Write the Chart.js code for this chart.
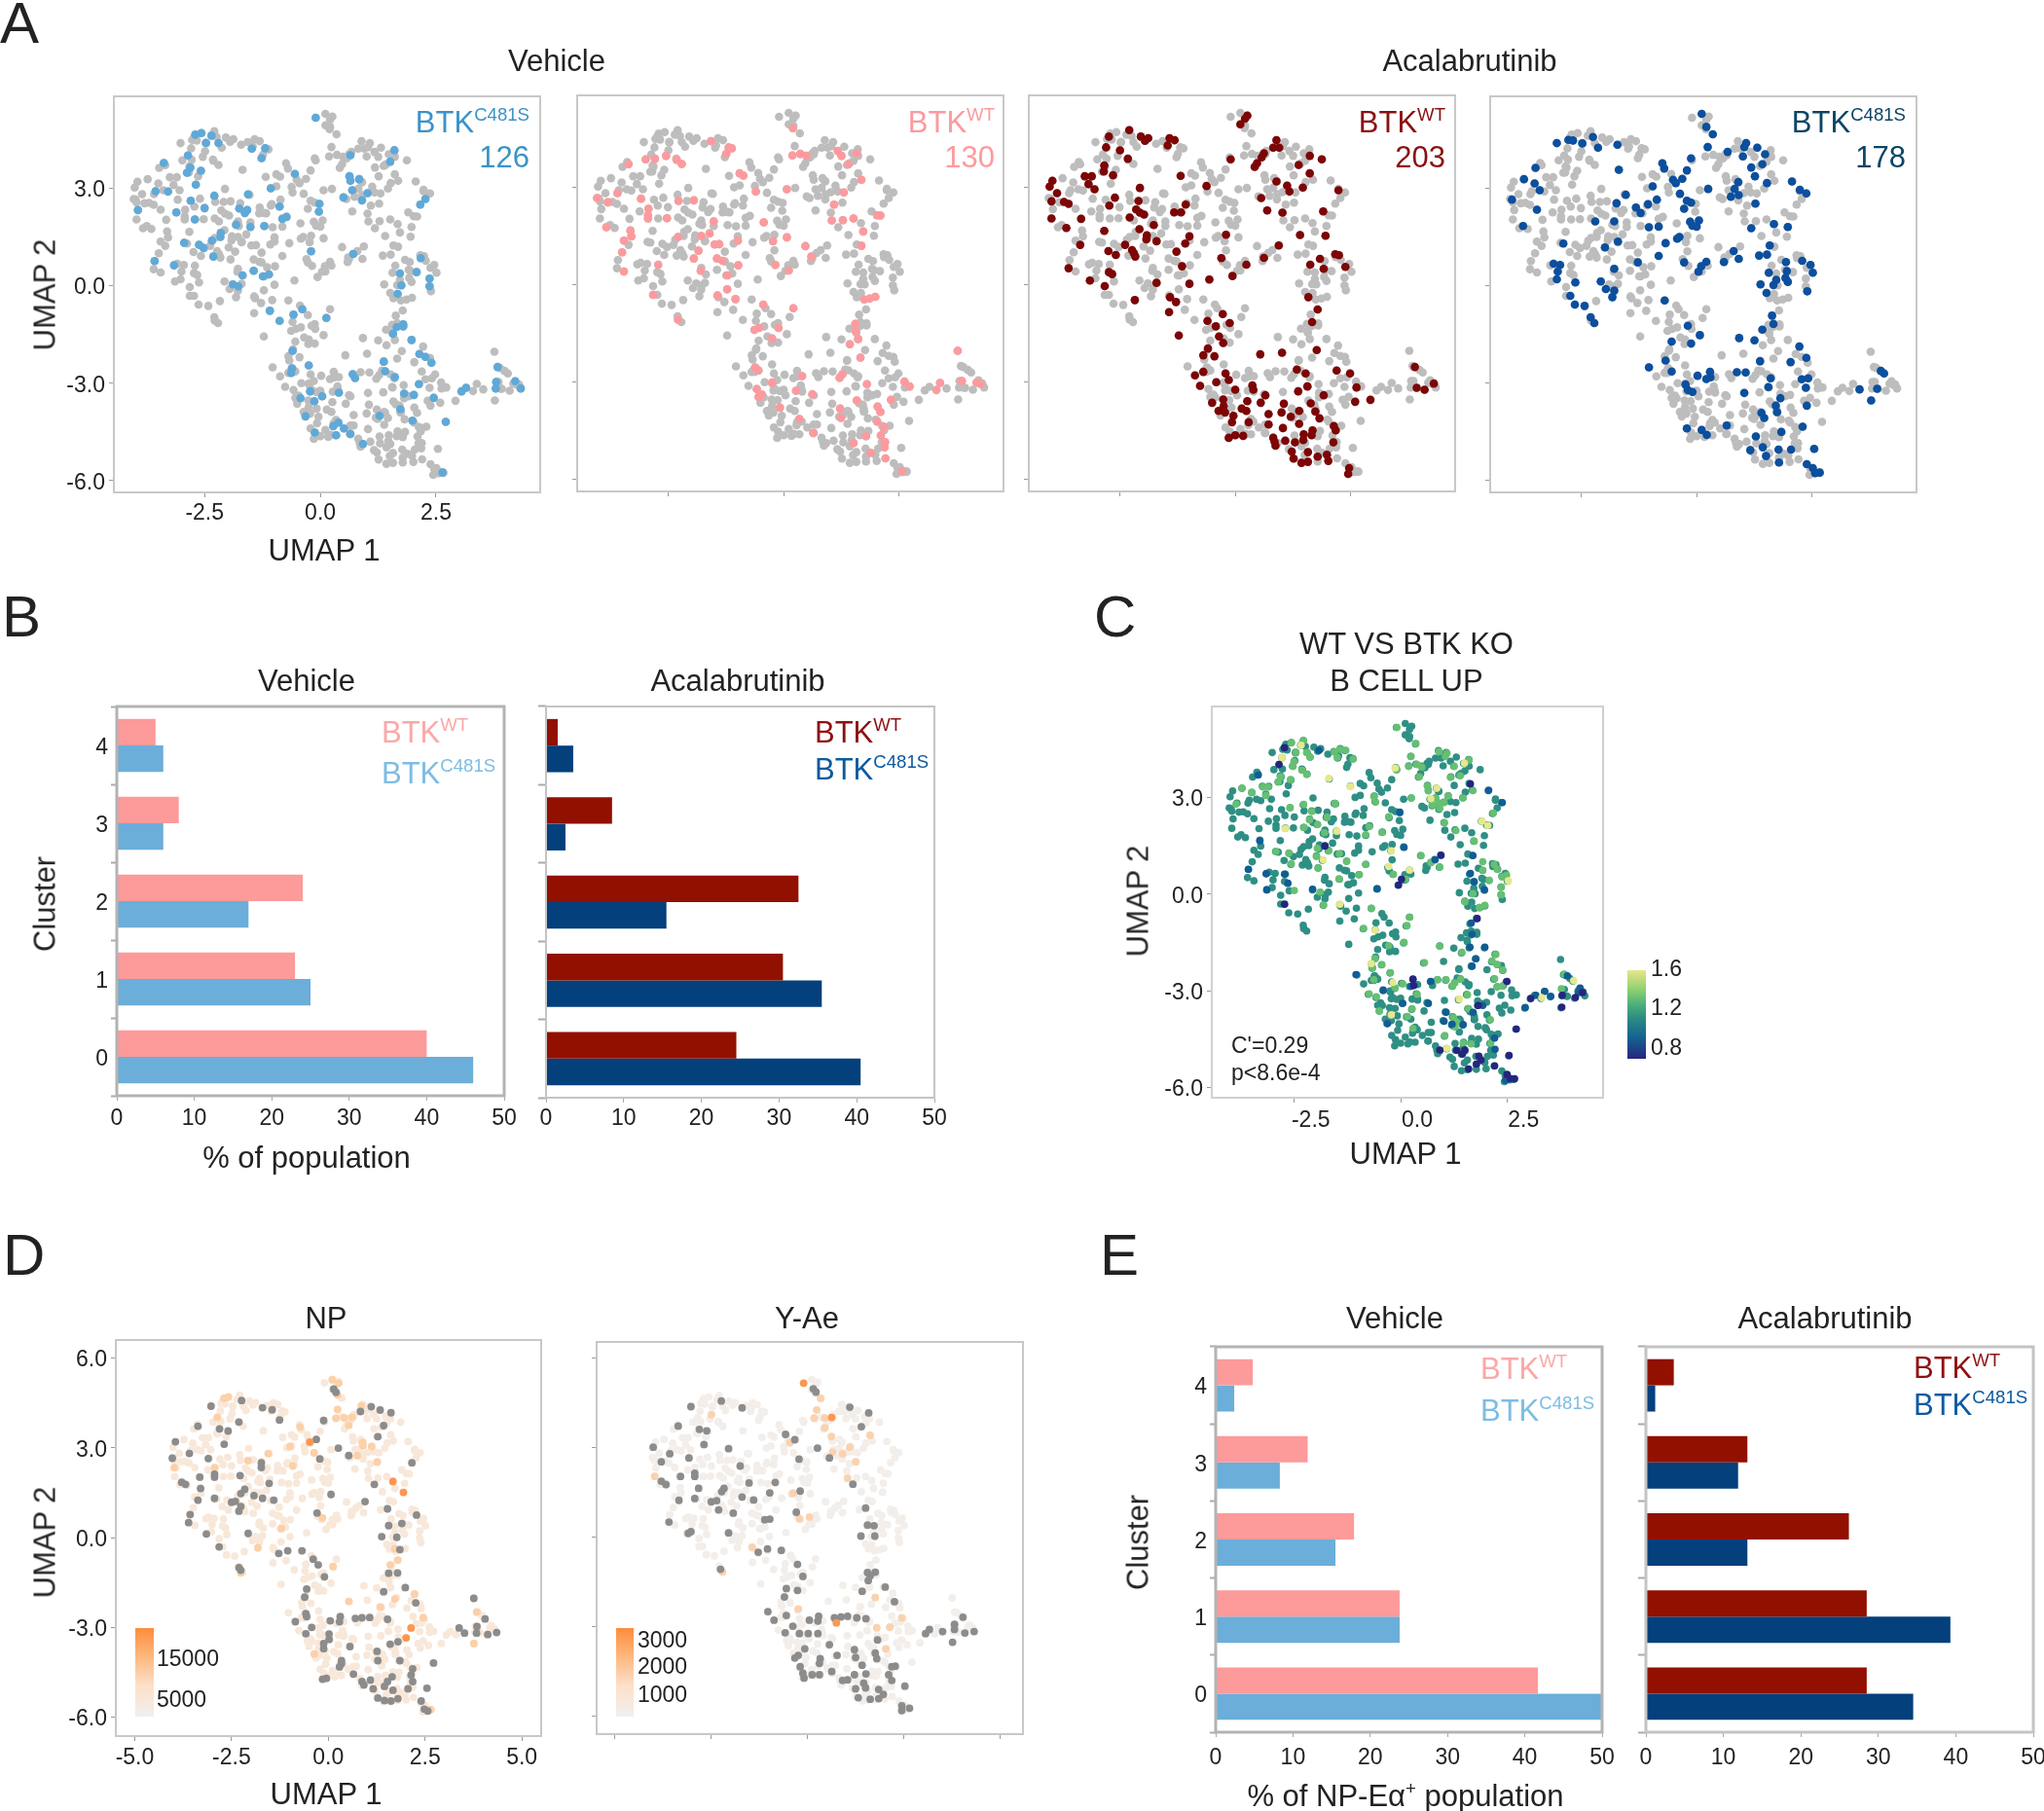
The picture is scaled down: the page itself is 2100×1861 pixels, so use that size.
<!DOCTYPE html>
<html>
<head>
<meta charset="utf-8">
<title>UMAP and cluster panels</title>
<script src="https://cdn.jsdelivr.net/npm/chart.js@4"></script>
<style>
html, body { margin: 0; padding: 0; background: #fff; }
#page { position: relative; width: 2100px; height: 1861px; overflow: hidden; font-family: "Liberation Sans", Arial, sans-serif; color: #222; }
#page canvas { position: absolute; }
.txt { position: absolute; white-space: nowrap; line-height: 1; }
.txt sup { font-size: 60%; line-height: 0; vertical-align: 0.62em; }
.bar { position: absolute; }
</style>
</head>
<body>
<div id="page"></div>
<script>
// cells of each sample, [UMAP 1, UMAP 2]
const vehicleC481S = [[-0.10,5.17],[-2.70,4.65],[-2.57,4.70],[-2.35,4.62],[-2.47,4.40],[-2.20,4.39],[-1.48,4.22],[-1.19,4.23],[-1.27,3.93],[-2.86,4.01],[-3.38,3.78],[-2.81,3.64],[-2.88,3.48],[-2.58,3.54],[-2.69,3.11],[-3.56,2.91],[-3.29,2.90],[-2.29,2.77],[-2.80,2.62],[-2.50,2.39],[-3.11,2.26],[-3.94,2.33],[-2.71,2.04],[-1.56,2.81],[-1.75,2.38],[-1.58,2.33],[-1.63,2.24],[-1.07,3.00],[-0.88,2.44],[-0.82,2.06],[-0.73,2.12],[-1.82,1.88],[-1.51,1.81],[-1.21,1.84],[-2.15,1.63],[-2.16,1.50],[-2.34,1.39],[-2.94,1.32],[-2.62,1.26],[-2.52,1.16],[-2.31,0.90],[-3.58,0.76],[-3.16,0.63],[-1.44,0.46],[-1.68,0.32],[-1.11,0.35],[-1.24,0.29],[-1.89,0.04],[-1.77,-0.02],[-0.55,3.44],[-0.02,2.52],[-0.03,2.28],[-0.20,1.06],[0.65,4.02],[1.60,4.17],[1.51,3.82],[0.63,3.37],[0.65,3.23],[0.84,3.28],[0.69,2.94],[1.02,2.85],[0.50,2.72],[0.90,2.63],[2.27,2.67],[2.16,2.50],[0.71,0.98],[2.17,0.85],[2.08,0.42],[1.72,0.38],[2.36,0.22],[1.75,0.01],[2.36,-0.02],[1.67,-0.25],[-0.39,-0.72],[-0.58,-0.89],[-1.09,-0.77],[-0.88,-1.08],[0.13,-0.99],[1.79,-1.19],[1.65,-1.27],[1.79,-1.25],[1.57,-1.48],[1.97,-1.67],[2.14,-2.10],[2.27,-2.19],[2.40,-2.37],[1.37,-2.34],[-0.60,-2.00],[-0.25,-2.45],[-0.61,-2.54],[-0.63,-2.68],[0.70,-2.72],[0.75,-2.84],[1.40,-2.63],[1.61,-2.81],[2.13,-3.03],[1.81,-3.32],[2.02,-3.36],[2.45,-3.45],[3.05,-3.25],[3.15,-3.14],[3.83,-2.50],[3.80,-2.96],[3.79,-3.16],[4.21,-2.94],[4.33,-3.16],[-0.22,-3.25],[0.40,-3.29],[0.04,-3.40],[-0.43,-3.46],[-0.13,-3.55],[1.73,-3.80],[1.28,-4.00],[-0.32,-4.02],[1.99,-4.15],[2.71,-4.19],[0.39,-4.21],[0.28,-4.32],[0.51,-4.39],[-0.12,-4.52],[0.65,-4.56],[0.34,-4.60],[0.92,-4.87],[2.64,-5.75]];
const vehicleWT = [[0.20,4.82],[-1.57,4.42],[-1.18,4.22],[-1.12,4.20],[-1.24,4.03],[-2.98,3.86],[-2.78,3.88],[-2.54,3.97],[-2.31,3.85],[-2.20,3.72],[-3.35,3.71],[0.19,3.98],[0.36,4.03],[0.49,3.97],[1.17,4.12],[1.25,3.97],[1.58,4.05],[1.40,3.71],[-0.95,3.43],[-0.87,3.36],[1.68,3.23],[0.07,2.94],[-0.60,2.87],[1.30,2.84],[-3.59,2.82],[-4.03,2.67],[-3.80,2.54],[-3.08,2.65],[-2.27,2.58],[-1.94,2.60],[1.09,2.47],[-2.92,2.34],[-2.93,2.14],[-2.93,2.04],[-2.52,2.05],[-1.51,1.95],[-0.43,1.92],[1.04,1.98],[1.28,1.99],[1.51,2.04],[2.02,2.14],[2.09,2.13],[-3.83,1.77],[-3.31,1.67],[-3.29,1.49],[-3.45,1.36],[1.72,1.64],[-1.60,1.58],[-1.78,1.50],[-2.28,1.47],[0.07,1.46],[-0.99,1.36],[-0.23,1.34],[-1.49,1.24],[-1.39,1.25],[1.68,1.20],[0.47,1.19],[-1.84,1.05],[-3.49,1.00],[0.60,0.87],[-1.94,0.81],[-1.44,0.81],[-1.32,0.74],[-2.71,0.62],[-0.98,0.60],[-0.18,0.61],[-3.45,0.41],[-1.79,0.43],[0.11,0.44],[-1.21,0.29],[-1.22,-0.14],[-2.82,-0.31],[-1.43,-0.33],[-1.04,-0.44],[-0.44,-0.61],[1.74,-0.45],[1.86,-0.42],[1.98,-0.37],[0.21,-0.72],[-2.28,-1.07],[1.55,-1.20],[1.56,-1.43],[1.61,-1.67],[1.43,-1.83],[-0.11,-1.33],[-0.53,-1.33],[-0.63,-1.39],[-0.25,-1.65],[1.66,-2.24],[3.76,-2.03],[-0.62,-2.55],[-0.55,-2.63],[0.40,-2.81],[1.27,-2.75],[1.21,-2.86],[2.61,-2.98],[2.72,-3.13],[1.80,-3.06],[-0.25,-3.01],[3.38,-3.02],[3.85,-2.96],[4.17,-3.01],[4.25,-3.05],[3.30,-3.24],[0.27,-3.26],[0.62,-3.37],[-0.58,-3.21],[-0.47,-3.38],[-0.54,-3.45],[1.58,-3.56],[2.32,-3.54],[-0.08,-3.78],[1.22,-3.81],[2.03,-3.75],[2.09,-3.91],[1.24,-4.10],[0.34,-4.13],[2.02,-4.21],[2.17,-4.38],[0.64,-4.56],[1.78,-4.66],[2.10,-4.64],[2.19,-4.84],[1.51,-4.87],[2.18,-5.00],[1.88,-5.17],[2.20,-5.34],[2.56,-5.73]];
const acalaWT = [[0.26,5.21],[0.21,5.11],[0.11,4.94],[-2.29,4.76],[-2.73,4.56],[-2.04,4.56],[-1.88,4.51],[-1.95,4.43],[-1.42,4.51],[-1.31,4.45],[-1.46,4.29],[-2.79,4.23],[-2.49,4.14],[-2.32,3.88],[-0.10,3.86],[0.89,4.45],[0.82,4.22],[0.95,4.22],[0.62,4.05],[0.57,3.92],[0.47,3.74],[0.42,3.63],[1.61,3.97],[1.87,3.86],[1.37,3.69],[1.61,3.43],[-2.83,3.67],[-2.84,3.49],[-2.64,3.37],[-3.25,3.34],[-3.10,3.34],[-3.95,3.20],[-4.01,3.02],[-3.17,3.10],[-3.04,2.94],[-1.18,3.35],[-2.06,2.98],[-0.62,3.04],[0.89,3.18],[1.12,3.05],[1.17,2.87],[1.46,2.99],[2.23,2.91],[0.56,2.67],[-3.85,2.82],[-3.97,2.57],[-3.70,2.55],[-3.60,2.49],[-2.60,2.68],[-2.09,2.58],[-2.72,2.44],[-2.14,2.32],[-1.07,2.47],[-2.06,2.22],[-1.97,2.16],[-1.32,2.23],[-1.17,2.23],[-2.28,2.07],[0.69,2.29],[1.02,2.22],[1.90,2.26],[-3.97,2.04],[-3.33,2.03],[-3.65,1.75],[-1.76,1.84],[-2.07,1.71],[-2.83,1.66],[-1.91,1.52],[-1.92,1.40],[-1.70,1.34],[-0.99,1.49],[-1.08,1.27],[-0.20,1.54],[1.40,1.53],[1.95,1.51],[-3.35,1.23],[-2.38,1.23],[-2.74,1.04],[-2.23,1.07],[-2.19,0.97],[-2.16,0.87],[-2.58,0.92],[-1.27,1.02],[0.94,1.21],[-0.30,0.82],[0.62,0.83],[1.83,0.80],[2.16,0.94],[2.24,0.91],[1.62,0.62],[0.24,0.62],[-1.15,0.57],[2.38,0.55],[1.91,0.49],[-3.60,0.51],[-2.73,0.39],[-2.66,0.33],[-3.14,0.13],[-2.82,-0.04],[-1.70,0.06],[-0.99,0.03],[-0.56,0.16],[-0.06,0.27],[1.58,-0.38],[-2.17,-0.47],[-1.41,-0.38],[-1.28,-0.53],[-1.43,-0.84],[-0.27,-0.90],[1.78,-0.76],[-0.60,-1.11],[-0.12,-1.18],[-0.42,-1.28],[1.66,-1.15],[-1.22,-1.56],[-0.35,-1.59],[-0.26,-1.79],[-0.59,-1.96],[-0.69,-2.17],[-0.45,-2.20],[0.54,-2.14],[1.01,-2.09],[1.76,-2.01],[1.33,-2.61],[2.19,-2.64],[2.48,-2.73],[1.52,-2.73],[3.88,-2.53],[-0.69,-2.68],[-0.87,-2.79],[-0.21,-2.73],[-0.14,-2.93],[-0.41,-3.00],[-0.76,-3.11],[0,-3.23],[0.37,-3.10],[0.39,-3.23],[1.56,-3.13],[1.36,-3.28],[2.62,-3.16],[3.92,-3.17],[4.09,-3.23],[4.29,-3.04],[0.65,-3.40],[1.91,-3.40],[2.92,-3.54],[2.59,-3.60],[-0.26,-3.53],[-0.50,-3.63],[0.26,-3.58],[0.55,-3.63],[1.05,-3.66],[1.63,-3.65],[-0.25,-3.73],[0.14,-3.81],[0.24,-3.88],[-0.36,-3.88],[-0.22,-3.93],[-0.04,-4.03],[1.38,-3.88],[1.73,-3.90],[0.72,-3.98],[1.00,-3.93],[1.20,-4.06],[1.82,-4.11],[-0.07,-4.23],[0.29,-4.23],[0.72,-4.30],[1.38,-4.28],[2.13,-4.35],[1.03,-4.41],[2.17,-4.48],[1.67,-4.48],[1.48,-4.60],[1.65,-4.63],[0.17,-4.65],[0,-4.63],[-0.14,-4.71],[0.82,-4.71],[1.47,-4.78],[0.85,-4.83],[1.08,-4.80],[1.29,-4.85],[2.12,-4.85],[0.87,-4.95],[1.22,-5.13],[1.57,-5.15],[1.98,-5.23],[1.78,-5.29],[1.26,-5.35],[2.01,-5.42],[1.57,-5.45],[1.43,-5.48],[2.46,-5.64],[2.44,-5.82]];
const acalaC481S = [[0.11,5.29],[0.21,4.89],[0.35,4.66],[-2.24,4.58],[-2.77,4.49],[-2.67,4.47],[-3.02,4.39],[-2.47,4.38],[-2.13,4.25],[-1.71,4.34],[0.24,4.27],[1.07,4.39],[1.03,4.27],[1.31,4.25],[0.67,4.12],[1.48,4.05],[1.00,3.98],[-0.12,3.92],[1.42,3.74],[-0.74,3.77],[-0.70,3.61],[1.18,3.64],[-0.21,3.55],[-1.68,3.57],[-3.48,3.63],[1.26,3.37],[-0.31,3.29],[-3.73,3.28],[-0.51,3.26],[-0.45,3.16],[-3.50,3.15],[0.90,3.19],[1.52,3.16],[2.06,3.21],[-0.95,3.06],[-3.39,2.94],[0.25,2.98],[0.82,2.98],[2.23,2.95],[2.37,2.84],[-1.53,2.80],[-0.36,2.83],[0.74,2.74],[0.91,2.79],[-3.99,2.65],[-0.86,2.65],[-0.21,2.62],[-0.12,2.56],[1.27,2.53],[-1.73,2.54],[-1.05,2.51],[-0.27,2.37],[-1.31,2.41],[-3.45,2.34],[-1.21,2.24],[-1.78,1.98],[-2.19,1.98],[-3.75,1.84],[-0.14,1.97],[0.05,2.01],[-0.09,1.85],[0,1.82],[1.67,1.90],[-1.03,1.80],[-0.82,1.82],[1.18,1.77],[1.97,1.81],[-0.37,1.50],[-0.42,1.45],[-1.70,1.36],[-2.88,1.30],[-0.67,1.31],[-1.98,1.18],[1.58,1.24],[0.80,1.07],[1.35,0.93],[1.52,0.96],[-0.82,0.92],[0.91,0.83],[0.59,0.73],[0.21,0.74],[-0.27,0.72],[-1.27,0.72],[1.93,0.73],[2.28,0.77],[-3.09,0.68],[2.46,0.64],[-2.95,0.64],[0.10,0.60],[-1.78,0.52],[-3.00,0.44],[2.51,0.40],[0.04,0.43],[1.56,0.40],[1.95,0.45],[1.92,0.24],[-3.02,0.20],[-2.62,0.10],[-2.07,0.13],[1.97,0.12],[1.72,0.18],[1.38,0.04],[1.66,0.02],[-1.96,-0.10],[-1.78,-0.15],[-1.82,-0.35],[2.39,-0.17],[1.51,-0.22],[-2.73,-0.31],[-2.63,-0.58],[-2.42,-0.62],[-0.69,-0.45],[1.63,-0.92],[-2.29,-0.97],[-2.21,-1.15],[1.66,-1.18],[-0.19,-1.23],[1.42,-1.35],[0.07,-1.52],[0.92,-1.61],[1.25,-1.68],[-0.54,-1.72],[-0.12,-1.78],[2.22,-1.87],[2.37,-2.22],[2.03,-2.35],[-0.67,-2.30],[1.37,-2.32],[-1.03,-2.51],[-0.54,-2.64],[0.87,-2.66],[1.06,-2.67],[3.98,-2.62],[4.05,-2.70],[0.29,-2.65],[0.02,-2.77],[0.30,-2.82],[0.21,-2.87],[1.60,-2.85],[2.27,-2.88],[2.41,-2.85],[-0.24,-3.04],[-0.19,-3.21],[-0.09,-3.27],[1.55,-3.12],[2.36,-3.14],[3.52,-3.19],[3.90,-3.17],[1.03,-3.30],[1.81,-3.46],[3.77,-3.53],[1.71,-3.69],[2.38,-3.69],[1.74,-3.89],[1.40,-3.91],[1.46,-4.07],[0.65,-4.30],[2.29,-4.34],[-0.21,-4.39],[0.11,-4.44],[0.22,-4.59],[1.83,-4.50],[1.28,-4.64],[1.16,-5.06],[1.43,-4.97],[1.77,-5.04],[2.04,-5.04],[2.54,-5.02],[1.50,-5.24],[1.78,-5.44],[2.38,-5.49],[2.51,-5.61],[2.66,-5.75],[2.56,-5.77]];

// panel C, cells that stand out from the mid score
const scoreTop = [[-2.34,4.62],[-2.79,4.23],[-2.71,2.03],[-1.69,3.59],[-1.18,3.34],[-0.13,3.91],[-0.22,1.34],[-0.28,0.85],[-1.43,-0.32],[2.53,0.41],[-0.60,-1.12],[1.50,4.06],[0.71,2.96],[0.85,3.28],[1.91,2.26],[2.05,2.13],[-1.82,1.06],[4.07,-2.69],[3.32,-3.22],[-0.69,-2.16],[1.09,-4.79],[1.38,-3.26],[-1.50,1.95],[0.21,0.74],[-0.18,-2.74],[-0.22,-3.75]];
const scoreHigh = [[-2.46,4.39],[-2.21,4.39],[-2.57,4.69],[-2.28,4.76],[-2.51,4.11],[-2.53,3.96],[-2.13,4.25],[-1.49,4.24],[-1.43,4.49],[-1.29,4.46],[-1.12,4.19],[-1.56,4.41],[-2.32,3.84],[-2.21,3.71],[-2.82,3.64],[-2.88,3.48],[-2.59,3.55],[-3.24,3.32],[-3.11,3.32],[-3.50,3.15],[-3.17,3.06],[-3.87,2.79],[-3.73,3.28],[-2.60,2.68],[-2.28,2.78],[-1.54,2.81],[-2.09,2.56],[-1.73,2.38],[-2.14,2.30],[-1.95,2.16],[-2.27,2.07],[-1.79,1.90],[-1.96,1.42],[-1.69,1.34],[-1.98,1.17],[-2.57,0.94],[-1.94,0.81],[-2.93,1.32],[-2.63,1.27],[-1.44,1.25],[-1.27,1.02],[-0.82,0.92],[-1.45,0.47],[-0.97,0.60],[-0.28,2.40],[-0.63,3.03],[-0.59,2.85],[0.25,2.98],[-0.44,1.91],[-0.74,2.09],[-0.82,1.84],[-0.09,5.17],[0.36,4.67],[-0.09,3.86],[0.19,3.96],[0.24,4.27],[0.38,4.02],[0.50,3.94],[0.44,3.64],[0.63,3.36],[0.65,3.20],[0.82,2.98],[0.75,2.76],[0.92,2.66],[0.90,2.83],[1.02,2.84],[1.11,3.04],[0.90,4.42],[1.09,4.37],[1.05,4.27],[1.26,3.96],[1.70,3.21],[1.61,4.16],[1.47,2.98],[1.40,3.67],[1.17,3.62],[1.03,2.21],[1.30,1.97],[1.73,1.64],[2.18,2.51],[1.93,1.00],[2.20,0.92],[2.27,0.77],[1.93,0.74],[2.08,0.43],[2.39,0.53],[2.49,0.59],[2.37,0.22],[2.37,-0.02],[1.98,-0.35],[1.51,-0.24],[1.70,0.01],[1.85,-0.42],[0.48,1.19],[0.71,0.97],[0.92,0.84],[0.12,0.46],[-0.17,0.61],[-0.69,-0.44],[0.21,-0.72],[0.15,-0.98],[-0.87,-1.07],[0.08,-1.50],[-0.28,-1.60],[0.92,-1.62],[1.44,-1.81],[0.56,-2.13],[2.24,-1.87],[2.15,-2.08],[2.27,-2.19],[2.40,-2.36],[2.21,-2.63],[0.86,-2.66],[1.07,-2.66],[1.27,-2.76],[1.22,-2.86],[1.41,-2.64],[1.57,-3.13],[1.60,-3.56],[2.11,-3.90],[2.12,-4.63],[1.47,-4.62],[1.66,-4.65],[1.24,-3.82],[1.32,-3.97],[1.28,-4.12],[1.04,-4.39],[0.29,-4.17],[0.27,-3.56],[0.16,-3.80],[0.39,-3.11],[0.05,-2.79],[-0.13,-2.91],[-0.44,-2.19],[-0.66,-2.29],[-0.60,-2.00],[-0.63,-2.66],[-0.74,-3.10],[-0.57,-3.19],[-0.50,-3.63],[-0.24,-2.44],[2.27,-2.88],[2.39,-2.86],[3.78,-2.94],[3.85,-2.49],[-1.81,-0.34],[-1.89,0.06],[-2.50,0.11]];
const scoreLow = [[-1.92,4.46],[-3.35,3.69],[-3.31,1.65],[-3.58,0.77],[-3.16,0.63],[-2.73,0.62],[-2.65,0.34],[-3.15,0.13],[-2.07,0.15],[-0.55,0.16],[-0.02,2.54],[0.08,1.45],[0.81,1.06],[1.70,1.19],[1.73,0.38],[1.97,0.13],[1.64,0.64],[2.07,3.22],[2.39,2.84],[1.98,-1.65],[1.63,-1.65],[1.66,-0.90],[1.68,-1.25],[1.77,-2.01],[1.68,-2.24],[-1.05,-2.50],[0.25,-2.86],[0.71,-2.71],[-0.41,-2.98],[0.05,-3.39],[0.65,-3.39],[1.07,-3.67],[-0.31,-4.02],[1.02,-3.95],[1.21,-4.04],[1.47,-4.05],[1.70,-3.67],[2.21,-4.47],[2.22,-4.82],[1.93,-3.46],[2.93,-3.52],[3.18,-3.14],[3.39,-3.02],[3.53,-3.17],[3.92,-2.54],[4.22,-2.92],[4.18,-3.06],[2.47,-5.78]];
const scoreBottom = [[-2.86,4.02],[-2.73,4.54],[-1.78,1.49],[1.64,3.42],[-2.73,-0.32],[-0.05,0.28],[0.02,0.46],[0.95,1.20],[1.80,-0.76],[0.29,-2.64],[0.31,-2.84],[2.50,-2.71],[1.82,-3.46],[3.06,-3.24],[3.80,-3.14],[4.11,-3.21],[3.79,-3.51],[1.32,-4.85],[1.45,-4.97],[1.51,-4.84],[0.92,-4.84],[1.84,-5.03],[1.89,-5.15],[1.60,-5.43],[1.78,-5.28],[2.21,-5.33],[2.50,-5.60],[2.58,-5.73],[2.68,-5.73],[2.72,-4.19],[2.55,-5.01],[4.28,-3.06]];

// panel D, cells with no signal and cells with clear signal
const npZero = [[0.14,4.96],[0.20,4.85],[-2.24,4.58],[-3.03,4.39],[-1.70,4.34],[-1.45,4.27],[0.83,4.21],[1.11,4.37],[1.34,4.26],[1.62,4.17],[-1.26,3.93],[-0.12,3.91],[-2.31,3.86],[-3.37,3.72],[-2.81,3.63],[-2.59,3.56],[1.43,3.74],[1.28,3.37],[-3.95,3.20],[-0.31,3.28],[-2.69,3.12],[0.26,2.99],[-3.59,2.81],[0.53,2.74],[-4.03,2.65],[-3.10,2.64],[-0.22,2.63],[2.16,2.50],[-1.73,2.50],[-1.73,2.34],[-2.94,2.12],[-2.94,2.02],[-2.28,2.07],[-3.32,2.02],[-3.79,1.85],[-3.69,1.78],[-1.53,1.81],[1.19,1.78],[-3.30,1.64],[-2.16,1.61],[-2.26,1.47],[0.07,1.44],[-3.37,1.25],[-2.94,1.31],[-1.92,1.40],[-1.70,1.31],[-1.41,1.25],[-2.50,1.18],[-2.40,1.21],[0.95,1.20],[-2.26,1.04],[-2.31,0.88],[1.53,0.96],[-0.29,0.82],[-3.57,0.77],[-3.61,0.50],[2.28,0.75],[1.56,0.40],[1.90,0.47],[-3.15,0.12],[-2.07,0.14],[1.38,0.03],[1.77,0.01],[-2.82,-0.31],[1.85,-0.40],[-1.28,-0.53],[-1.05,-0.44],[-0.68,-0.44],[-0.39,-0.72],[-0.26,-0.91],[-2.31,-1.00],[-2.26,-1.09],[1.56,-1.19],[1.79,-1.18],[-0.10,-1.31],[1.99,-1.67],[-0.56,-1.72],[1.43,-1.81],[-0.61,-1.99],[2.26,-2.18],[3.76,-2.03],[-0.58,-2.54],[-0.85,-2.81],[-0.56,-2.64],[0.05,-2.78],[0.31,-2.64],[0.29,-2.81],[0.70,-2.70],[0.87,-2.68],[1.07,-2.67],[1.53,-2.73],[4.05,-2.72],[3.38,-3.02],[3.52,-3.19],[3.84,-2.97],[3.83,-3.19],[4.12,-3.24],[4.35,-3.17],[-0.43,-3.00],[-0.58,-3.21],[0.02,-3.22],[0.02,-3.40],[-0.12,-3.54],[-0.12,-3.71],[0.56,-3.64],[1.80,-3.48],[1.60,-3.56],[1.26,-3.80],[1.28,-4.11],[1.85,-4.11],[0.34,-4.11],[0.34,-4.21],[0.29,-4.32],[2.18,-4.38],[2.72,-4.19],[2.14,-4.59],[2.18,-4.81],[0.65,-4.56],[0.87,-4.81],[1.09,-4.76],[0.92,-4.92],[1.65,-4.65],[1.53,-4.81],[1.45,-4.97],[-0.05,-4.70],[-0.15,-4.73],[1.16,-5.05],[2.55,-5.03],[2.06,-5.05],[1.67,-5.10],[1.28,-5.36],[1.45,-5.44],[1.62,-5.46],[1.80,-5.38],[2.40,-5.46],[2.48,-5.73],[2.57,-5.79]];
const npMid = [[0.10,5.27],[0.27,5.16],[0.24,4.76],[0.24,4.28],[0.20,3.99],[0.41,4.00],[0.61,4.02],[0.53,3.75],[0.85,4.40],[-2.69,4.65],[-2.59,4.69],[-2.87,4.02],[-0.73,3.69],[0.88,3.17],[0.90,3.07],[0.75,2.74],[1.12,3.04],[1.26,2.52],[-2.07,2.57],[-2.94,2.34],[-3.98,2.34],[-1.55,2.81],[-0.99,3.04],[-0.37,2.83],[1.72,-0.37],[1.80,-0.75],[2.23,-1.89],[2.45,-2.67],[-0.36,-3.89],[2.64,-5.74],[3.84,-2.48],[3.76,-3.54],[0.53,-2.13],[1.34,-2.32],[1.72,-2.05],[-1.82,-0.34],[-1.21,0.31],[-0.15,0.66],[1.60,-0.91],[0.12,-0.96],[-2.26,-1.18],[-0.92,2.39]];
const npHigh = [[-0.48,3.19],[1.67,1.87],[1.94,1.51],[2.14,-3.02],[2.01,-3.35]];
const yaeZero = [[0.15,4.98],[0.22,4.87],[-2.24,4.57],[-3.03,4.38],[-1.70,4.34],[1.10,4.36],[1.59,4.17],[-3.36,3.73],[-2.81,3.62],[-2.62,3.57],[1.40,3.71],[-0.57,3.45],[-0.33,3.27],[-2.69,3.11],[-4.01,3.02],[-2.05,2.97],[0.26,2.99],[-3.58,2.80],[0.57,2.66],[-3.80,2.53],[-3.08,2.66],[-0.22,2.62],[-1.75,2.39],[-2.93,2.15],[-2.93,2.04],[-3.30,2.04],[-3.80,1.88],[-3.68,1.77],[-1.52,1.82],[-0.84,1.84],[1.18,1.78],[-2.83,1.64],[-2.17,1.64],[-2.23,1.53],[-0.19,1.55],[-0.98,1.49],[-1.70,1.35],[-1.40,1.25],[-3.34,1.24],[-2.93,1.30],[-2.50,1.19],[-2.36,1.23],[-2.31,0.92],[-1.93,0.81],[-0.29,0.84],[1.51,0.98],[-1.11,0.59],[-0.98,0.61],[-3.60,0.51],[1.56,0.41],[1.73,0.39],[-3.10,0.13],[-3.03,0.19],[-2.05,0.15],[1.39,0.04],[1.75,0.04],[-1.28,-0.50],[-1.04,-0.39],[-0.68,-0.44],[-0.26,-0.91],[-2.26,-1.07],[1.76,-1.17],[1.56,-1.18],[1.63,-1.29],[1.58,-1.45],[-0.12,-1.31],[2.02,-1.67],[-0.55,-1.72],[-0.26,-1.78],[1.42,-1.81],[-0.60,-2.00],[2.26,-2.16],[-1.03,-2.49],[-0.55,-2.62],[-0.87,-2.78],[0.05,-2.78],[0.29,-2.65],[0.27,-2.81],[0.70,-2.70],[0.87,-2.67],[1.04,-2.65],[1.28,-2.70],[1.52,-2.73],[4.04,-2.68],[3.07,-3.23],[3.17,-3.09],[3.51,-3.16],[3.82,-2.92],[3.82,-3.09],[4.09,-3.21],[4.33,-3.16],[3.77,-3.52],[-0.38,-2.98],[-0.58,-3.20],[-0.21,-3.23],[0.02,-3.23],[0.27,-3.23],[1.82,-3.44],[0.57,-3.60],[1.22,-3.77],[0.77,-3.96],[-0.07,-3.74],[-0.24,-3.96],[-0.33,-4.05],[1.76,-3.88],[1.80,-4.07],[1.25,-4.03],[0.33,-4.07],[0.31,-4.23],[1.42,-4.29],[2.28,-4.32],[2.19,-4.34],[2.11,-4.61],[-0.19,-4.34],[-0.12,-4.56],[-0.09,-4.72],[0.12,-4.61],[0.31,-4.61],[0.63,-4.50],[0.91,-4.80],[1.04,-4.78],[1.52,-4.58],[1.22,-4.61],[2.19,-4.80],[1.46,-4.89],[1.51,-5.05],[2.53,-4.99],[1.25,-5.08],[1.85,-5.10],[1.97,-5.27],[1.32,-5.38],[1.63,-5.43],[1.85,-5.41],[2.45,-5.65],[2.45,-5.81],[2.65,-5.73]];
const yaeMid = [[0.24,4.27],[-2.50,4.11],[0.34,4.66],[0.62,3.38],[1.10,3.02],[1.25,2.53],[1.63,3.42],[-0.46,3.18],[-0.24,-2.40],[2.45,-2.70],[1.76,-2.02],[2.04,-3.74],[-0.38,1.47],[-0.21,0.62],[-1.44,-0.33],[-2.21,-1.16],[-3.97,2.04],[0.91,2.80],[0.65,2.86],[1.04,1.98],[0.17,4.00],[0.45,4.00],[0.45,3.67],[1.80,-3.03],[2.14,-3.01],[0.05,0.68]];
const yaeHigh = [[-0.10,5.17],[0.75,-2.87],[0.63,4.02]];

// bar panels, clusters top to bottom
const clusters = ['4', '3', '2', '1', '0'];
const popVehicleWT = [5, 8, 24, 23, 40];
const popVehicleC481S = [6, 6, 17, 25, 46];
const popAcalaWT = [1.5, 8.5, 32.5, 30.5, 24.5];
const popAcalaC481S = [3.5, 2.5, 15.5, 35.5, 40.5];
const npVehicleWT = [4.8, 11.9, 17.9, 23.8, 41.7];
const npVehicleC481S = [2.4, 8.3, 15.5, 23.8, 50];
const npAcalaWT = [3.6, 13.1, 26.2, 28.5, 28.5];
const npAcalaC481S = [1.2, 11.9, 13.1, 39.3, 34.5];

const umapTicksX = [-2.5, 0, 2.5];
const umapTicksY = [-6, -3, 0, 3];
const wideTicksX = [-5, -2.5, 0, 2.5, 5];
const wideTicksY = [-6, -3, 0, 3, 6];

const allCells = vehicleC481S.concat(vehicleWT, acalaWT, acalaC481S);
const page = document.getElementById('page');
const M = 90; // room round each plot for tick labels

// outline of the plot area
const framePlugin = {
    id: 'frame',
    afterDraw(chart, args, opts) {
        const a = chart.chartArea, c = chart.ctx;
        c.save();
        c.strokeStyle = opts.color;
        c.lineWidth = opts.width;
        c.strokeRect(a.left, a.top, a.right - a.left, a.bottom - a.top);
        c.restore();
    }
};

function addChart(box, config) {
    const canvas = document.createElement('canvas');
    canvas.width = box.r - box.l + 2 * M;
    canvas.height = box.b - box.t + 2 * M;
    canvas.style.left = (box.l - M) + 'px';
    canvas.style.top = (box.t - M) + 'px';
    page.appendChild(canvas);
    config.options.responsive = false;
    config.options.animation = false;
    config.options.devicePixelRatio = 1;
    // left and bottom room comes from the axis boxes, see afterFit
    config.options.layout = { padding: { left: 0, bottom: 0, top: M, right: M } };
    config.options.plugins = {
        legend: { display: false },
        tooltip: { enabled: false },
        frame: { color: box.color || '#c8c8c8', width: box.width || 2 }
    };
    config.plugins = [framePlugin];
    return new Chart(canvas.getContext('2d'), config);
}

function axis(kind, opts) {
    const s = {
        type: kind,
        border: { display: false },
        grid: { drawOnChartArea: false, drawTicks: true, tickLength: opts.tickLength || 5, tickColor: opts.tickColor || '#999', tickWidth: opts.tickWidth || 1 },
        ticks: {
            display: opts.labels !== false,
            color: '#222',
            padding: opts.padding === undefined ? 4 : opts.padding,
            labelOffset: opts.labelOffset || 0,
            autoSkip: false,
            maxRotation: 0,
            font: { family: '"Liberation Sans", Arial, sans-serif', size: 23 }
        },
        afterFit(scale) {
            if (scale.isHorizontal()) scale.height = M; else scale.width = M;
        }
    };
    if (opts.min !== undefined) { s.min = opts.min; s.max = opts.max; }
    if (opts.values) {
        s.afterBuildTicks = function (scale) { scale.ticks = opts.values.map(v => ({ value: v })); };
        s.ticks.callback = v => v.toFixed(1);
    }
    return s;
}

function points(cells) {
    return cells.map(c => ({ x: c[0], y: c[1] }));
}

// layers are listed top first, chart.js paints the first dataset last
function scatterPanel(box, layers, xr, yr, xTicks, yTicks, xLabels, yLabels) {
    addChart(box, {
        type: 'scatter',
        data: {
            datasets: layers.map(l => ({
                data: points(l.cells),
                pointRadius: l.r || 4.3,
                pointBackgroundColor: l.color,
                pointBorderWidth: 0
            }))
        },
        options: {
            scales: {
                x: axis('linear', { min: xr[0], max: xr[1], values: xTicks, labels: xLabels, padding: box.xPad === undefined ? 4 : box.xPad, labelOffset: box.xOff }),
                y: axis('linear', { min: yr[0], max: yr[1], values: yTicks, labels: yLabels, padding: 4, labelOffset: 2.5 })
            }
        }
    });
}

function barPanel(box, wt, mut, colors, yLabels) {
    addChart(box, {
        type: 'bar',
        data: {
            labels: clusters,
            datasets: [
                { data: wt, backgroundColor: colors[0], categoryPercentage: 0.68, barPercentage: 1 },
                { data: mut, backgroundColor: colors[1], categoryPercentage: 0.68, barPercentage: 1 }
            ]
        },
        options: {
            indexAxis: 'y',
            scales: {
                x: axis('linear', { min: 0, max: 50, tickLength: 5, tickColor: '#aaa', padding: box.xPad }),
                y: axis('category', { labels: yLabels, tickLength: yLabels ? 6 : 8, tickColor: '#aaa', tickWidth: 2, padding: 3, labelOffset: 2.5 })
            }
        }
    });
}

function addText(html, x, y, size, opts) {
    opts = opts || {};
    const d = document.createElement('div');
    d.className = 'txt';
    d.innerHTML = html;
    d.style.fontSize = size + 'px';
    d.style.left = x + 'px';
    d.style.top = y + 'px';
    if (opts.color) d.style.color = opts.color;
    let tx = '-50%';
    if (opts.align === 'left') tx = '0';
    if (opts.align === 'right') tx = '-100%';
    d.style.transform = 'translate(' + tx + ',-50%)' + (opts.rotate ? ' rotate(-90deg)' : '');
    page.appendChild(d);
}

function addColorBar(x, y, w, h, gradient) {
    const d = document.createElement('div');
    d.className = 'bar';
    d.style.cssText = 'left:' + x + 'px;top:' + y + 'px;width:' + w + 'px;height:' + h + 'px;background:linear-gradient(to bottom,' + gradient + ')';
    page.appendChild(d);
}

const GREY = '#bdbdbd', SKY = '#5fa9d8', ROSE = '#fd9a9e', WINE = '#7d0505', NAVY = '#0b4f9e';

// panel A
const xrA = [-4.46, 4.75], yrA = [-6.36, 5.83];
scatterPanel({ l: 117, r: 555, t: 99, b: 506, xPad: 3 }, [{ cells: vehicleC481S, color: SKY }, { cells: allCells, color: GREY }], xrA, yrA, umapTicksX, umapTicksY, true, true);
scatterPanel({ l: 593, r: 1031, t: 98, b: 505 }, [{ cells: vehicleWT, color: ROSE }, { cells: allCells, color: GREY }], xrA, yrA, umapTicksX, umapTicksY, false, false);
scatterPanel({ l: 1057, r: 1495, t: 98, b: 505 }, [{ cells: acalaWT, color: WINE }, { cells: allCells, color: GREY }], xrA, yrA, umapTicksX, umapTicksY, false, false);
scatterPanel({ l: 1531, r: 1969, t: 99, b: 506 }, [{ cells: acalaC481S, color: NAVY }, { cells: allCells, color: GREY }], xrA, yrA, umapTicksX, umapTicksY, false, false);

// panel B
barPanel({ l: 120, r: 518, t: 726, b: 1126, color: '#b3b3b3', width: 3, xPad: 5 }, popVehicleWT, popVehicleC481S, ['#fd9a9a', '#6baed9'], true);
barPanel({ l: 561, r: 960, t: 726, b: 1128, color: '#c4c4c4', width: 2, xPad: 3 }, popAcalaWT, popAcalaC481S, ['#921000', '#03407c'], false);

// panel C, the printed tick labels sit to the right of their ticks
scatterPanel({ l: 1245, r: 1647, t: 726, b: 1128, color: '#d0d0d0', xPad: 5, xOff: 17 }, [
    { cells: scoreBottom, color: '#25257f', r: 3.8 },
    { cells: scoreTop, color: '#e6e88c', r: 3.8 },
    { cells: scoreLow, color: '#125c94', r: 3.8 },
    { cells: scoreHigh, color: '#66bf72', r: 3.8 },
    { cells: allCells, color: '#2f8f84', r: 3.8 }
], [-4.44, 4.76], [-6.32, 5.82], umapTicksX, umapTicksY, true, true);

// panel D
scatterPanel({ l: 119, r: 556, t: 1377, b: 1784, xPad: 4 }, [
    { cells: npHigh, color: '#fd9650', r: 3.9 },
    { cells: npZero, color: '#8c8c8c', r: 3.9 },
    { cells: npMid, color: '#fcd0a8', r: 3.9 },
    { cells: allCells, color: '#f8e8da', r: 3.9 }
], [-5.49, 5.5], [-6.63, 6.6], wideTicksX, wideTicksY, true, true);
scatterPanel({ l: 613, r: 1051, t: 1379, b: 1782 }, [
    { cells: yaeHigh, color: '#fd9650', r: 3.9 },
    { cells: yaeZero, color: '#8c8c8c', r: 3.9 },
    { cells: yaeMid, color: '#fbd2ae', r: 3.9 },
    { cells: allCells, color: '#f3eeea', r: 3.9 }
], [-5.48, 5.6], [-6.6, 6.55], wideTicksX, wideTicksY, false, false);

// panel E
barPanel({ l: 1249, r: 1646, t: 1384, b: 1780, color: '#b3b3b3', width: 3, xPad: 8 }, npVehicleWT, npVehicleC481S, ['#fd9a9a', '#6baed9'], true);
barPanel({ l: 1691, r: 2089, t: 1384, b: 1780, color: '#c4c4c4', width: 3, xPad: 8 }, npAcalaWT, npAcalaC481S, ['#921000', '#03407c'], false);

// panel letters
addText('A', 0, 24, 60, { align: 'left' });
addText('B', 2, 634, 60, { align: 'left' });
addText('C', 1124, 634, 60, { align: 'left' });
addText('D', 3, 1290, 60, { align: 'left' });
addText('E', 1130, 1290, 60, { align: 'left' });

// titles
addText('Vehicle', 572, 62, 31);
addText('Acalabrutinib', 1510, 62, 31);
addText('Vehicle', 315, 699, 31);
addText('Acalabrutinib', 758, 699, 31);
addText('WT VS BTK KO', 1445, 661, 31);
addText('B CELL UP', 1445, 699, 31);
addText('NP', 335, 1354, 31);
addText('Y-Ae', 829, 1354, 31);
addText('Vehicle', 1433, 1354, 31);
addText('Acalabrutinib', 1875, 1354, 31);

// axis titles
addText('UMAP 1', 333, 565, 31);
addText('UMAP 2', 46, 303, 31, { rotate: true });
addText('% of population', 315, 1189, 31);
addText('Cluster', 46, 929, 31, { rotate: true });
addText('UMAP 1', 1444, 1185, 31);
addText('UMAP 2', 1169, 926, 31, { rotate: true });
addText('UMAP 1', 335, 1843, 31);
addText('UMAP 2', 46, 1585, 31, { rotate: true });
addText('% of NP-Eα<sup>+</sup> population', 1444, 1845, 31);
addText('Cluster', 1169, 1585, 31, { rotate: true });

// sample labels
addText('BTK<sup>C481S</sup>', 544, 125, 31, { align: 'right', color: '#3b93c8' });
addText('126', 544, 161, 31, { align: 'right', color: '#3b93c8' });
addText('BTK<sup>WT</sup>', 1022, 125, 31, { align: 'right', color: '#fd9a9e' });
addText('130', 1022, 161, 31, { align: 'right', color: '#fd9a9e' });
addText('BTK<sup>WT</sup>', 1485, 125, 31, { align: 'right', color: '#8b1010' });
addText('203', 1485, 161, 31, { align: 'right', color: '#8b1010' });
addText('BTK<sup>C481S</sup>', 1958, 125, 31, { align: 'right', color: '#0b4566' });
addText('178', 1958, 161, 31, { align: 'right', color: '#0b4566' });

addText('BTK<sup>WT</sup>', 392, 752, 31, { align: 'left', color: '#fba8a8' });
addText('BTK<sup>C481S</sup>', 392, 794, 31, { align: 'left', color: '#7dbde3' });
addText('BTK<sup>WT</sup>', 837, 752, 31, { align: 'left', color: '#8f1010' });
addText('BTK<sup>C481S</sup>', 837, 790, 31, { align: 'left', color: '#0b5aa0' });
addText('BTK<sup>WT</sup>', 1521, 1406, 31, { align: 'left', color: '#fba8a8' });
addText('BTK<sup>C481S</sup>', 1521, 1449, 31, { align: 'left', color: '#7dbde3' });
addText('BTK<sup>WT</sup>', 1966, 1405, 31, { align: 'left', color: '#8f1010' });
addText('BTK<sup>C481S</sup>', 1966, 1443, 31, { align: 'left', color: '#0b5aa0' });

// panel C notes and colour bar
addText("C'=0.29", 1265, 1074, 23, { align: 'left' });
addText('p&lt;8.6e-4', 1265, 1102, 23, { align: 'left' });
addColorBar(1672, 997, 19, 91, '#e8e68a 0%, #8ed070 22%, #4fb17a 38%, #2a8a84 55%, #15658f 75%, #25257f 100%');
addText('1.6', 1696, 995, 23, { align: 'left' });
addText('1.2', 1696, 1035, 23, { align: 'left' });
addText('0.8', 1696, 1076, 23, { align: 'left' });

// panel D colour bars
addColorBar(139, 1673, 19, 91, '#fd8d3c 0%, #fdbb84 35%, #fde0c8 65%, #f0f0f0 100%');
addText('15000', 161, 1704, 23, { align: 'left' });
addText('5000', 161, 1746, 23, { align: 'left' });
addColorBar(633, 1673, 18, 91, '#fd8d3c 0%, #fdbb84 35%, #fde0c8 65%, #f0f0f0 100%');
addText('3000', 655, 1685, 23, { align: 'left' });
addText('2000', 655, 1712, 23, { align: 'left' });
addText('1000', 655, 1741, 23, { align: 'left' });
</script>
</body>
</html>
